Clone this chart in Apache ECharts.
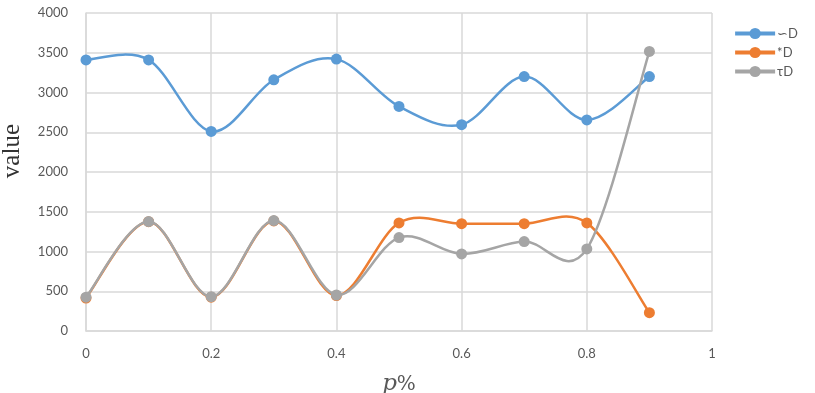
<!DOCTYPE html>
<html>
<head>
<meta charset="utf-8">
<script src="https://cdn.jsdelivr.net/npm/echarts@6/dist/echarts.min.js"></script>
<style>
    html, body { margin: 0; padding: 0; background: #fff; }
    #chart { width: 815px; height: 393px; }
</style>
</head>
<body>
<div id="chart"></div>
<script>
/* 数据 */
const pValues = [0, 0.1, 0.2, 0.3, 0.4, 0.5, 0.6, 0.7, 0.8, 0.9];

const seriesNames = ["∽D", "*D", "τD"];

const sineD = [3410, 3410, 2510, 3160, 3420, 2825, 2595, 3200, 2655, 3200];

const starD = [415, 1375, 425, 1385, 445, 1360, 1350, 1350, 1360, 230];

const tauD = [425, 1377, 432, 1389, 453, 1175, 970, 1125, 1033, 3517];

const colors = ["#5b9bd5", "#ed7d31", "#a5a5a5"];

const allValues = [sineD, starD, tauD];

const textColor = "#595959";

const gridColor = "#d9d9d9";

/* 组合成 [x, y] */
function toPairs(values){

    return values.map((v, i) => {

        return [pValues[i], v];
    });
}

/* Excel 风格平滑曲线：每段一条贝塞尔 */
function makeCurveRenderer(values, color){

    const n = values.length;

    return function(params, api){

        const i = params.dataIndex;

        if(i >= n - 1) return null;

        const pt = k => {

            const j = Math.max(0, Math.min(n - 1, k));

            return api.coord([pValues[j], values[j]]);
        };

        const p0 = pt(i - 1);
        const p1 = pt(i);
        const p2 = pt(i + 1);
        const p3 = pt(i + 2);

        return {
            type: "bezierCurve",
            shape: {
                x1: p1[0],
                y1: p1[1],
                x2: p2[0],
                y2: p2[1],
                cpx1: p1[0] + (p2[0] - p0[0]) / 6,
                cpy1: p1[1] + (p2[1] - p0[1]) / 6,
                cpx2: p2[0] - (p3[0] - p1[0]) / 6,
                cpy2: p2[1] - (p3[1] - p1[1]) / 6
            },
            style: {
                stroke: color,
                lineWidth: 2.5,
                fill: null
            }
        };
    };
}

const chart = echarts.init(document.getElementById("chart"));

const series = [];

seriesNames.forEach((name, i) => {

    /* 曲线 */
    series.push({
        type: "custom",
        coordinateSystem: "cartesian2d",
        renderItem: makeCurveRenderer(allValues[i], colors[i]),
        data: toPairs(allValues[i]),
        z: 2 + i * 2,
        silent: true
    });

    /* 数据点 */
    series.push({
        name: name,
        type: "line",
        symbol: "circle",
        symbolSize: 11,
        color: colors[i],
        lineStyle: { width: 2.5, opacity: 0 },
        data: toPairs(allValues[i]),
        z: 3 + i * 2
    });
});

chart.setOption({

    animation: false,

    grid: {
        left: 86,
        right: 103,
        top: 13,
        bottom: 62,
        outerBoundsMode: "none",
        containLabel: false
    },

    legend: {
        orient: "vertical",
        right: 12,
        top: 22,
        itemWidth: 40,
        itemHeight: 14,
        itemGap: 6,
        lineStyle: { width: 4, opacity: 1 },
        textStyle: {
            color: textColor,
            fontSize: 13,
            fontFamily: "Lato",
            padding: [0, 0, 0, -3]
        },
        data: seriesNames
    },

    xAxis: {
        type: "value",
        min: 0,
        max: 1,
        interval: 0.2,
        axisLine: { show: true, lineStyle: { color: gridColor, width: 1.5 } },
        axisTick: { show: false },
        axisLabel: {
            color: textColor,
            fontSize: 13,
            fontFamily: "Lato",
            margin: 16
        },
        splitLine: { show: true, lineStyle: { color: gridColor, width: 1.5 } },
        name: "{i|p}{n|%}",
        nameLocation: "middle",
        nameGap: 42,
        nameTextStyle: {
            rich: {
                i: {
                    fontFamily: "DejaVu Serif",
                    fontStyle: "italic",
                    fontSize: 23,
                    color: textColor
                },
                n: {
                    fontFamily: "DejaVu Serif",
                    fontSize: 20,
                    color: textColor
                }
            }
        }
    },

    yAxis: {
        type: "value",
        min: 0,
        max: 4000,
        interval: 500,
        axisLine: { show: true, lineStyle: { color: gridColor, width: 1.5 } },
        axisTick: { show: false },
        axisLabel: {
            color: textColor,
            fontSize: 13,
            fontFamily: "Lato",
            margin: 18,
            formatter: v => String(v)
        },
        splitLine: { show: true, lineStyle: { color: gridColor, width: 1.5 } }
    },

    graphic: [
        {
            type: "text",
            left: 0,
            top: 124,
            rotation: Math.PI / 2,
            style: {
                text: "value",
                fontFamily: "Liberation Serif",
                fontSize: 25,
                fill: "#333"
            }
        }
    ],

    series: series
});
</script>
</body>
</html>
